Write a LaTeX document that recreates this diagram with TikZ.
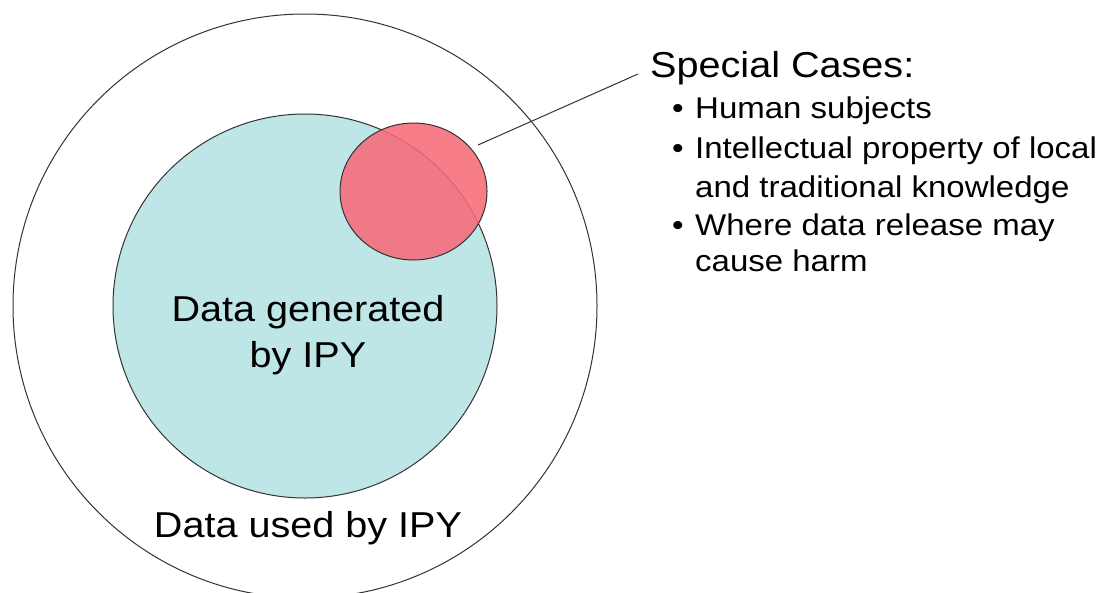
\documentclass[tikz,border=0pt]{standalone}
\usepackage{fontspec}
\setmainfont{Liberation Sans}[FakeStretch=1.1]
\usetikzlibrary{shapes.geometric}
\definecolor{genfill}{RGB}{191,230,230}
\definecolor{specfill}{RGB}{246,107,121}
\tikzset{
  ring/.style={draw=black!80,circle,inner sep=0pt,line width=1pt},
  bigtext/.style={anchor=base,inner sep=0pt,font=\fontsize{36}{44}\selectfont},
  listtext/.style={anchor=base west,inner sep=0pt,font=\fontsize{30}{38}\selectfont},
}

\begin{document}
\begin{tikzpicture}[x=1pt,y=-1pt]
              \useasboundingbox (0,0) rectangle (1110,592);
              %\draw[help lines,step=50] (0,0) grid(1110,592);
              \node[ring,minimum size=584pt] (used) at (305,306) {};
              \node[ring,fill=genfill,minimum size=384pt] (generated) at (305,306) {};
              \node[draw=black!80,ellipse,line width=1pt,inner sep=0pt,fill=specfill,fill opacity=0.88,minimum width=147pt,minimum height=137pt] (special) at (413.5,191.5) {};
              \node[bigtext] (gentop) at (308,321) {Data generated};
              \node[bigtext] (genbot) at (308,367) {by IPY};
              \node[bigtext] (usedlabel) at (308,537) {Data used by IPY};
              % pointer to the list
              \coordinate (ptrstart) at (478,145);
              \coordinate (ptrend) at (638,74);
              \path[draw,line width=1pt,black!80] (ptrstart)--(ptrend);
              \node[listtext,font=\fontsize{36}{44}\selectfont] (head) at (650,77) {Special Cases:};
              \node[listtext] (b1) at (672,118) {\textbullet};
              \node[listtext] (l1) at (695,118) {Human subjects};
              \node[listtext] (b2) at (672,158) {\textbullet};
              \node[listtext] (l2) at (695,158) {Intellectual property of local};
              \node[listtext] (l3) at (695,197) {and traditional knowledge};
              \node[listtext] (b3) at (672,235) {\textbullet};
              \node[listtext] (l4) at (695,235) {Where data release may};
              \node[listtext] (l5) at (695,271) {cause harm};
\end{tikzpicture}
\end{document}
